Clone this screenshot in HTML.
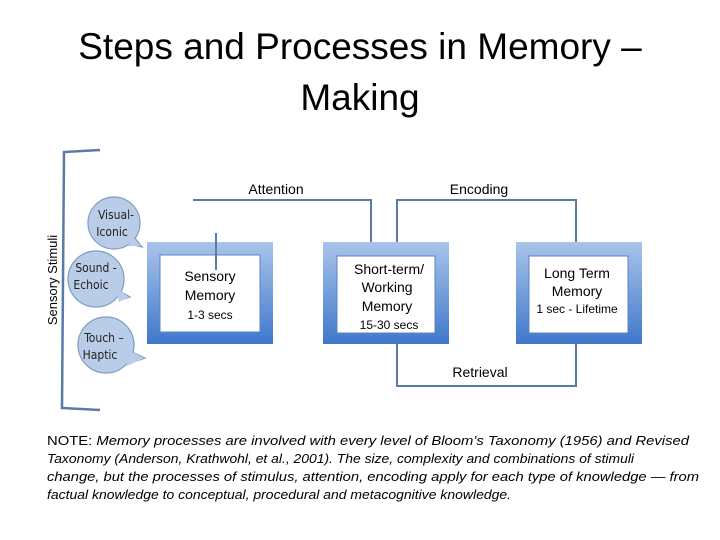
<!DOCTYPE html>
<html><head><meta charset="utf-8"><style>
html,body{margin:0;padding:0;background:#fff;}
svg{display:block;font-family:"Liberation Sans",Arial,sans-serif;}
</style></head><body>
<svg width="720" height="540" viewBox="0 0 720 540" xmlns="http://www.w3.org/2000/svg">
<defs>
<linearGradient id="g" x1="0" y1="0" x2="0" y2="1">
<stop offset="0" stop-color="#a9c4ea"/><stop offset="1" stop-color="#3f78cc"/>
</linearGradient>
</defs>
<text x="360" y="59" font-size="37" text-anchor="middle" fill="#000">Steps and Processes in Memory –</text>
<text x="360" y="110" font-size="37" text-anchor="middle" fill="#000">Making</text>

<!-- bracket -->
<path d="M100,150 L64,152 L62,408 L100,410" fill="none" stroke="#5a7ca4" stroke-width="2.5"/>
<text transform="translate(57,280) rotate(-90)" font-size="13" text-anchor="middle">Sensory Stimuli</text>

<!-- bubbles -->
<g fill="#b9cde8" stroke="#7f9cc4" stroke-width="1.2">
<path d="M135,238 L142,247 L130,244"/>
<circle cx="114" cy="223" r="26"/>
<path d="M118,290 L130,297 L121,300"/>
<circle cx="96" cy="279" r="28"/>
<path d="M128,350 L145,358 L128,364"/>
<circle cx="106" cy="345" r="28"/>
</g>
<g fill="#b9cde8">
<path d="M132,236 L141,246 L128,246 Z"/>
<path d="M116,288 L129,297 L119,302 Z"/>
<path d="M126,349 L144,358 L127,366 Z"/>
</g>
<g font-size="12" fill="#222" text-anchor="middle" font-family="'DejaVu Sans Condensed','DejaVu Sans',sans-serif">
<text x="116" y="219">Visual-</text><text x="112" y="236">Iconic</text>
<text x="96" y="272">Sound -</text><text x="91" y="289">Echoic</text>
<text x="104" y="342">Touch –</text><text x="100" y="359">Haptic</text>
</g>

<!-- boxes -->
<rect x="147" y="242" width="126" height="102" fill="url(#g)"/>
<rect x="160" y="255" width="100" height="77" fill="#fff" stroke="#5a84c0" stroke-width="1"/>
<rect x="323" y="242" width="126" height="102" fill="url(#g)"/>
<rect x="337" y="256" width="98" height="77" fill="#fff" stroke="#5a84c0" stroke-width="1"/>
<rect x="516" y="242" width="126" height="102" fill="url(#g)"/>
<rect x="529" y="256" width="99" height="77" fill="#fff" stroke="#5a84c0" stroke-width="1"/>

<!-- connectors -->
<g fill="none" stroke="#5a7ca4" stroke-width="2">
<path d="M193,200 L371,200 L371,242"/>
<path d="M216,233 L216,270"/>
<path d="M397,242 L397,200 L576,200 L576,242"/>
<path d="M397,344 L397,386 L576,386 L576,344"/>
</g>
<g font-size="14" fill="#000" text-anchor="middle">
<text x="276" y="194">Attention</text>
<text x="479" y="194">Encoding</text>
<text x="480" y="377">Retrieval</text>
<text x="210" y="281">Sensory</text>
<text x="210" y="300">Memory</text>
<text x="210" y="319" font-size="12">1-3 secs</text>
<text x="389" y="274">Short-term/</text>
<text x="387" y="292">Working</text>
<text x="387" y="311">Memory</text>
<text x="389" y="329" font-size="12">15-30 secs</text>
<text x="577" y="278">Long Term</text>
<text x="577" y="296">Memory</text>
<text x="577" y="313" font-size="12">1 sec - Lifetime</text>
</g>

<g font-size="13" fill="#000" font-style="italic">
<text x="47" y="445" textLength="642" lengthAdjust="spacingAndGlyphs"><tspan font-style="normal">NOTE: </tspan>Memory processes are involved with every level of Bloom’s Taxonomy (1956) and Revised</text>
<text x="47" y="463" textLength="587" lengthAdjust="spacingAndGlyphs">Taxonomy (Anderson, Krathwohl, et al., 2001).  The size, complexity and combinations of stimuli</text>
<text x="47" y="481" textLength="652" lengthAdjust="spacingAndGlyphs">change, but the processes of stimulus, attention, encoding apply for each type of knowledge  — from</text>
<text x="47" y="499" textLength="464" lengthAdjust="spacingAndGlyphs">factual knowledge to conceptual, procedural and metacognitive knowledge.</text>
</g>
</svg>
</body></html>
